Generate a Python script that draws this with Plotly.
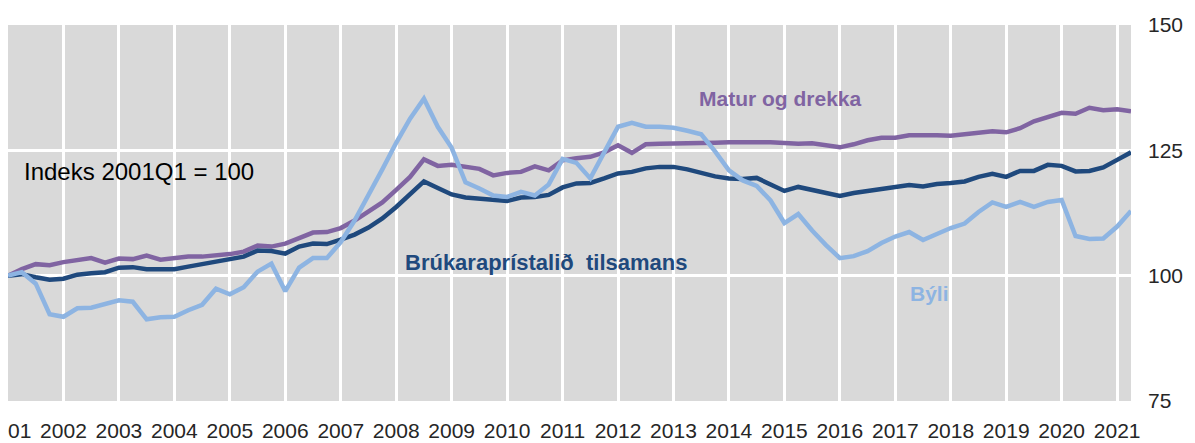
import plotly.graph_objects as go

# Quarterly categories 2001Q1 .. 2021Q2
quarters = [f"{y}Q{q}" for y in range(2001, 2022) for q in range(1, 5)][:82]
years = [str(y) for y in range(2001, 2022)]

matur_og_drekka = [
    100.0, 101.3, 102.3, 102.1,   # 2001
    102.7, 103.2, 103.5, 102.6,   # 2002
    103.4, 103.3, 104.0, 103.2,   # 2003
    103.6, 103.8, 103.8, 104.0,   # 2004
    104.3, 104.8, 106.0, 105.8,   # 2005
    106.4, 107.5, 108.6, 108.7,   # 2006
    109.5, 111.0, 112.9, 114.6,   # 2007
    117.1, 119.7, 123.2, 121.9,   # 2008
    122.1, 121.7, 121.3, 120.0,   # 2009
    120.5, 120.7, 121.8, 121.0,   # 2010
    123.0, 123.4, 123.7, 124.6,   # 2011
    126.0, 124.5, 126.2, 126.3,   # 2012
    126.3, 126.4, 126.4, 126.5,   # 2013
    126.6, 126.5, 126.6, 126.6,   # 2014
    126.4, 126.3, 126.4, 126.0,   # 2015
    125.6, 126.2, 127.0, 127.5,   # 2016
    127.5, 128.0, 128.1, 128.0,   # 2017
    127.9, 128.2, 128.6, 128.8,   # 2018
    128.6, 129.4, 130.8, 131.6,   # 2019
    132.5, 132.3, 133.5, 133.0,   # 2020
    133.2, 132.8,                 # 2021
]

brukaraprisir = [
    100.0, 100.3, 99.7, 99.2,
    99.4, 100.2, 100.5, 100.7,
    101.6, 101.7, 101.3, 101.3,
    101.3, 101.8, 102.3, 103.0,
    103.4, 103.8, 105.0, 104.9,
    104.4, 105.8, 106.4, 106.3,
    107.2, 108.2, 109.6, 111.4,
    113.7, 116.4, 118.8, 117.5,
    116.2, 115.6, 115.3, 115.0,
    114.9, 115.6, 115.7, 116.1,
    117.6, 118.4, 118.5, 119.4,
    120.4, 120.7, 121.4, 121.7,
    121.7, 121.2, 120.4, 119.8,
    119.4, 119.3, 119.5, 118.2,
    116.9, 117.7, 117.1, 116.3,
    115.9, 116.5, 116.9, 117.4,
    117.7, 118.1, 117.8, 118.3,
    118.5, 118.8, 119.7, 120.3,
    119.7, 120.9, 120.9, 122.1,
    121.9, 120.8, 120.9, 121.6,
    123.1, 124.6,
]

byli = [
    100.0, 100.7, 98.4, 92.3,
    91.8, 93.5, 93.6, 94.4,
    95.1, 94.8, 91.3, 91.7,
    91.8, 93.1, 94.2, 97.4,
    96.3, 97.7, 100.8, 102.4,
    96.9, 101.6, 103.5, 103.5,
    106.7, 111.0, 116.0, 121.2,
    126.5, 131.3, 135.3, 129.7,
    125.5, 118.6, 117.4, 116.0,
    115.7, 116.7, 116.0, 118.2,
    123.3, 122.5, 119.4, 124.5,
    129.7, 130.5, 129.7, 129.7,
    129.5, 128.9, 128.2, 124.8,
    121.0, 119.0, 117.9, 115.0,
    110.5, 112.3, 109.0, 106.1,
    103.5, 103.9, 104.9, 106.5,
    107.8, 108.7, 107.1, 108.3,
    109.5, 110.4, 112.7, 114.6,
    113.7, 114.7, 113.7, 114.7,
    115.1, 107.9, 107.3, 107.4,
    109.8, 112.9,
]

C_PURPLE = "#8064A2"
C_DARK = "#1F497D"
C_LIGHT = "#8DB4E2"
FONT = "Liberation Sans"

fig = go.Figure()
fig.add_trace(go.Scatter(x=quarters, y=matur_og_drekka, mode="lines",
                         line=dict(color=C_PURPLE, width=4.5), name="Matur og drekka"))
fig.add_trace(go.Scatter(x=quarters, y=brukaraprisir, mode="lines",
                         line=dict(color=C_DARK, width=4.5), name="Brúkaraprístalið tilsamans"))
fig.add_trace(go.Scatter(x=quarters, y=byli, mode="lines",
                         line=dict(color=C_LIGHT, width=4.5), name="Býli"))

fig.update_layout(
    width=1187, height=435,
    margin=dict(l=0, r=64, t=17, b=42, autoexpand=False),
    paper_bgcolor="white",
    plot_bgcolor="#D9D9D9",
    showlegend=False,
    font=dict(family=FONT, size=21, color="#404040"),
)
fig.update_xaxes(
    type="category",
    range=[0, len(quarters) - 1],
    tickmode="array",
    tickvals=[f"{y}Q1" for y in years],
    ticktext=years,
    showgrid=True, gridcolor="white", gridwidth=2.5,
    zeroline=False, showline=False, ticks="",
    automargin=False,
    ticklabelstandoff=15,
    tickfont=dict(family=FONT, size=21, color="#262626"),
)
fig.update_yaxes(
    side="right",
    range=[75, 150],
    tickvals=[75, 100, 125, 150],
    showgrid=True, gridcolor="white", gridwidth=2.5,
    zeroline=False, showline=False, ticks="",
    automargin=False,
    ticklabelstandoff=16,
    tickfont=dict(family=FONT, size=21, color="#262626"),
)

ann = [
    dict(text="<b>Matur og drekka</b>", x=49.7, y=135.4, color=C_PURPLE, size=21),
    dict(text="Indeks 2001Q1 = 100", x=1.0, y=120.7, color="#000000", size=24),
    dict(text="<b>Brúkaraprístalið  tilsamans</b>", x=28.5, y=102.7, color=C_DARK, size=22),
    dict(text="<b>Býli</b>", x=64.9, y=96.5, color=C_LIGHT, size=21),
]
for a in ann:
    fig.add_annotation(x=a["x"], y=a["y"], xref="x", yref="y", text=a["text"],
                       showarrow=False, xanchor="left", yanchor="middle",
                       font=dict(family=FONT, size=a["size"], color=a["color"]))

fig.write_html("out.html")
